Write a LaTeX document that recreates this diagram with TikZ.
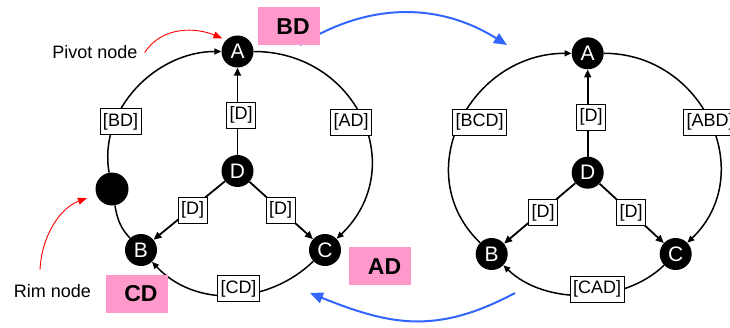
\documentclass[tikz,border=0pt]{standalone}
\usepackage{fontspec}
\setmainfont{Liberation Sans}
\usetikzlibrary{arrows.meta,calc}
\definecolor{pinkc}{RGB}{255,153,204}
\definecolor{bluec}{RGB}{51,102,255}
\begin{document}
\begin{tikzpicture}[x=1pt,y=1pt,
  vtx/.style={circle,fill=black,minimum size=32pt,inner sep=0pt,text=white,font=\fontsize{21}{21}\selectfont},
  rimdot/.style={circle,fill=black,minimum size=33pt,inner sep=0pt},
  lbl/.style={draw=black,line width=0.8pt,fill=white,inner xsep=3pt,inner ysep=0pt,minimum height=26pt,font=\fontsize{18}{18}\selectfont},
  pink/.style={fill=pinkc,minimum width=62pt,minimum height=38pt,inner sep=0pt,font=\bfseries\fontsize{23}{23}\selectfont},
  edge/.style={line width=1.5pt},
  arr/.style={edge,-{Triangle[length=7pt,width=6pt]}},
  spoke/.style={line width=1.8pt,-{Triangle[length=8pt,width=7pt]}},
  bluearr/.style={line width=2pt,color=bluec,-{Triangle[length=13pt,width=11pt]}},
  redarr/.style={line width=0.9pt,red,-{Triangle[length=9pt,width=7pt]}},
  note/.style={inner sep=0pt,font=\fontsize{18}{18}\selectfont}]
\useasboundingbox (0,0) rectangle (730,327);

% blue transition arrows
\coordinate (b1s) at (300,282);
\coordinate (b1e) at (507,282);
\draw[bluearr] (b1s) to[out=32,in=148] (b1e);
\coordinate (b2s) at (515,34);
\coordinate (b2e) at (310,34);
\draw[bluearr] (b2s) to[out=208,in=338,looseness=1.1] (b2e);

% left graph
\node[vtx] (A1) at (237.5,275.5) {A};
\node[vtx] (D1) at (237.5,156) {D};
\node[vtx] (B1) at (141,77) {B};
\node[vtx] (C1) at (325,77) {C};
\node[rimdot] (R1) at (112,138) {};
\draw[arr] (R1) to[out=100,in=180] (A1);
\draw[arr] (A1) to[out=0,in=44,looseness=1.28] (C1);
\draw[arr] (C1) to[out=224,in=313] (B1);
\draw[edge] (R1) to[out=280,in=133] (B1);
\draw[spoke] (D1) -- (A1);
\draw[spoke] (D1) -- (B1);
\draw[spoke] (D1) -- (C1);
\node[lbl] (bd1) at (120.5,205.5) {[BD]};
\node[lbl] (ad1) at (351,205) {[AD]};
\node[lbl] (da1) at (241,212) {[D]};
\node[lbl] (db1) at (192.5,117) {[D]};
\node[lbl] (dc1) at (280.5,117) {[D]};
\node[lbl] (cd1) at (238.5,38.5) {[CD]};

% right graph
\node[vtx] (A2) at (587.7,273.7) {A};
\node[vtx] (D2) at (587.7,154.3) {D};
\node[vtx] (B2) at (491.7,73) {B};
\node[vtx] (C2) at (675.7,73) {C};
\draw[arr] (B2) to[out=136,in=180,looseness=1.23] (A2);
\draw[arr] (A2) to[out=0,in=44,looseness=1.23] (C2);
\draw[arr] (C2) to[out=224,in=316,looseness=0.91] (B2);
\draw[spoke] (D2) -- (A2);
\draw[spoke] (D2) -- (B2);
\draw[spoke] (D2) -- (C2);
\node[lbl] (bcd2) at (479.5,205) {[BCD]};
\node[lbl] (abd2) at (710,205) {[ABD]};
\node[lbl] (da2) at (591,210) {[D]};
\node[lbl] (db2) at (543,114.5) {[D]};
\node[lbl] (dc2) at (631,114.5) {[D]};
\node[lbl] (cad2) at (597,38) {[CAD]};

% pink tags
\node[pink] (pBD) at (288.5,300.5) {\hspace*{9pt}BD};
\node[pink] (pCD) at (136.5,33) {\hspace*{9pt}CD};
\node[pink] (pAD) at (380,60.7) {\hspace*{9pt}AD};

% annotations
\node[note] (pivot) at (95,274.5) {Pivot node};
\node[note] (rim) at (52.5,35.5) {Rim node};
\draw[redarr,shorten >=4pt] ([xshift=7pt]pivot.east) to[out=57,in=157] (A1.135);
\draw[redarr,shorten >=10pt] ([xshift=-12.5pt,yshift=15pt]rim.north) to[out=87,in=200] (R1.200);
\end{tikzpicture}
\end{document}
